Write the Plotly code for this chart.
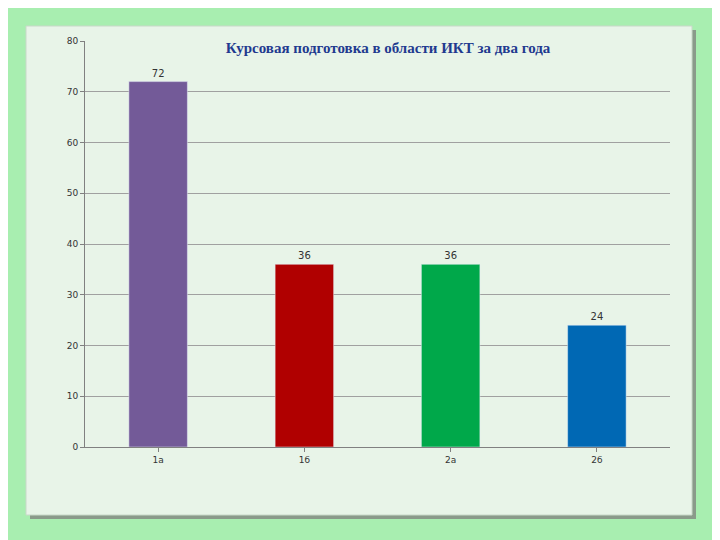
import plotly.graph_objects as go

categories = ["1a", "1б", "2a", "2б"]
values = [72, 36, 36, 24]
colors = ["#735a98", "#b00000", "#00a84a", "#0068b4"]
y_ticks = [0, 10, 20, 30, 40, 50, 60, 70, 80]

OFF = 8  # page body margin offset
L, R, T, B = 85 - OFF, 58, 41 - OFF, 101
W, H = 720, 540
pw, ph = W - L - R, H - T - B
def px(x): return (x - OFF - L) / pw
def py(y): return (H - B - (y - OFF)) / ph

fig = go.Figure(go.Bar(
    x=categories, y=values, marker_color=colors, width=0.4,
    text=[str(v) for v in values], textposition="outside",
    textfont=dict(size=10, color="#333"), cliponaxis=False))

fig.add_shape(type="rect", xref="paper", yref="paper",
              x0=px(30), x1=px(696), y0=py(519), y1=py(30),
              fillcolor="#8a9a8a", line_width=0, layer="below")
fig.add_shape(type="rect", xref="paper", yref="paper",
              x0=px(26), x1=px(692), y0=py(515), y1=py(26),
              fillcolor="#e8f4e8", line=dict(color="#c8d8c8", width=1), layer="below")

fig.update_layout(
    width=W, height=H, margin=dict(l=L, r=R, t=T, b=B),
    paper_bgcolor="#a8eeb0", plot_bgcolor="rgba(0,0,0,0)",
    showlegend=False, bargap=0.6,
    title=dict(text="<b>Курсовая подготовка в области ИКТ за два года</b>",
               x=(388 - OFF) / W, xanchor="center", y=1 - (48 - OFF) / H, yanchor="middle",
               font=dict(family="Liberation Serif", size=15, color="#1f3a8f")),
    font=dict(family="DejaVu Sans", size=9, color="#333"),
    yaxis=dict(range=[0, 80], tickvals=y_ticks, showgrid=True, gridcolor="#a0a0a0",
               showline=True, linecolor="#808080", ticks="outside", ticklen=4,
               tickcolor="#808080", zeroline=False),
    xaxis=dict(showline=True, linecolor="#808080", ticks="outside", tickcolor="#808080",
               ticklen=4),
)
fig.write_html("out.html")
